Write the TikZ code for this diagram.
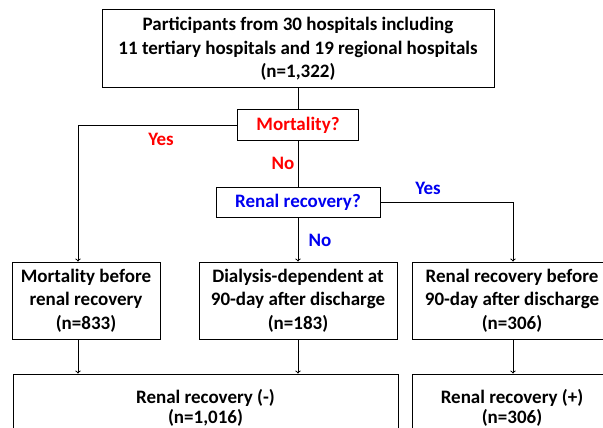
\documentclass[tikz,border=0pt]{standalone}
\usepackage{fontspec}
\setmainfont{Carlito}
\usetikzlibrary{arrows}
\definecolor{yesred}{RGB}{255,0,0}
\definecolor{noblue}{RGB}{0,0,240}

\tikzset{
  box/.style={draw, line width=1pt, align=center, inner sep=0pt,
    font=\fontsize{19}{23.5}\selectfont\bfseries},
  lbl/.style={font=\fontsize{19}{21}\selectfont\bfseries, text=#1},
  link/.style={line width=1pt},
  flow/.style={link, ->, >=to}
}

\begin{document}
\begin{tikzpicture}[x=1pt, y=-1pt]
    \useasboundingbox (0,0) rectangle (603,428);
    \clip (0,0) rectangle (603,428);
    % boxes
    \node[box, minimum width=392pt, minimum height=78pt] (top) at (298,49)
      {Participants from 30 hospitals including\\11 tertiary hospitals and 19 regional hospitals\\(n=1,322)};
    \node[box, text=yesred, minimum width=121pt, minimum height=31pt] (mort) at (298,125) {Mortality?};
    \node[box, text=noblue, minimum width=164pt, minimum height=30pt] (renal) at (298,202) {Renal recovery?};
    \node[box, minimum width=148pt, minimum height=77pt] (mbr) at (86,300.5)
      {Mortality before\\renal recovery\\(n=833)};
    \node[box, minimum width=198pt, minimum height=77pt] (dial) at (298,300.5)
      {Dialysis-dependent at\\90-day after discharge\\(n=183)};
    \node[box, minimum width=200pt, minimum height=77pt] (rrb) at (512,300.5)
      {Renal recovery before\\90-day after discharge\\(n=306)};
    \node[box, font=\fontsize{19}{20}\selectfont\bfseries, minimum width=385pt, minimum height=68pt] (rneg) at (205.5,408)
      {Renal recovery (-)\\(n=1,016)};
    \node[box, font=\fontsize{19}{20}\selectfont\bfseries, minimum width=200pt, minimum height=68pt] (rpos) at (512,408)
      {Renal recovery (+)\\(n=306)};
    % labels
    \node[lbl=yesred] (ya) at (161,139) {Yes};
    \node[lbl=yesred] (na) at (283,163) {No};
    \node[lbl=noblue] (yb) at (428,188) {Yes};
    \node[lbl=noblue] (nb) at (320,240) {No};
    % connectors
    \draw[link] (top) -- (mort);
    \draw[link] (mort) -- (renal);
    \draw[flow] (mort.west) -| ([xshift=-8pt]mbr.north);
    \draw[flow] (renal) -- (dial);
    \draw[flow] (renal.east) -| ([xshift=1pt]rrb.north);
    \draw[flow] ([xshift=-8pt]mbr.south) -- ([xshift=-8pt]mbr.south |- rneg.north);
    \draw[flow] (dial) -- (dial.south |- rneg.north);
    \draw[flow] ([xshift=1pt]rrb.south) -- ([xshift=1pt]rrb.south |- rpos.north);
\end{tikzpicture}
\end{document}
